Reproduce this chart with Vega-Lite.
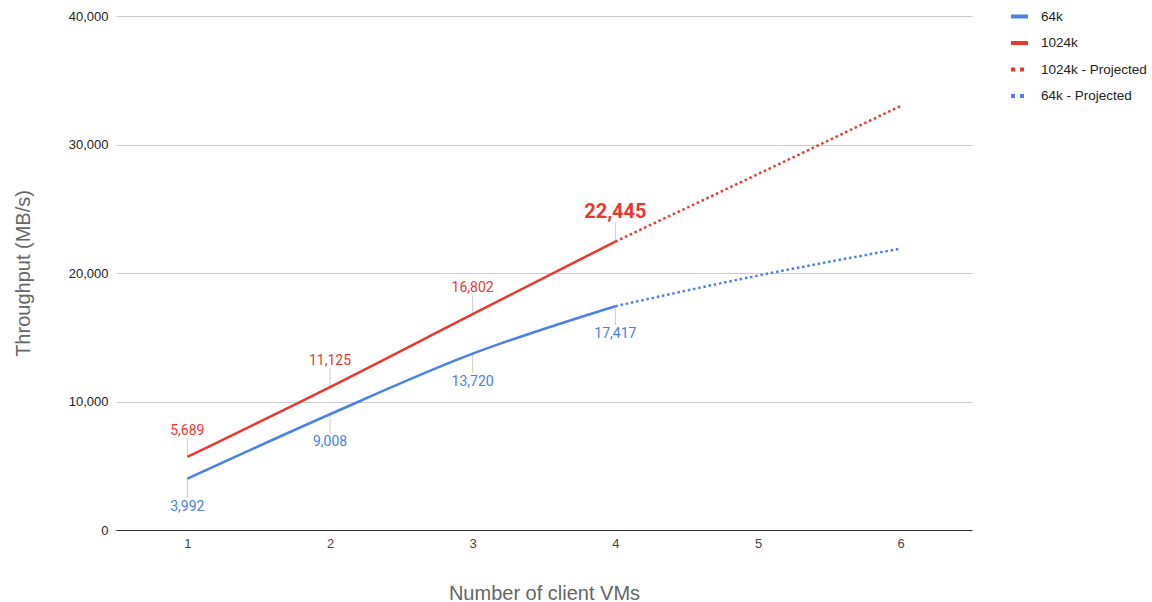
{
  "$schema": "https://vega.github.io/schema/vega-lite/v6.json",
  "autosize": "none",
  "width": 856,
  "height": 514,
  "padding": {"left": 116, "top": 16, "right": 180, "bottom": 72},
  "background": "white",
  "config": {
    "view": {"stroke": null},
    "font": "Liberation Sans"
  },
  "data": {
    "values": [
      {"vms": 1, "mbps": 3992, "series": "64k"},
      {"vms": 2, "mbps": 9008, "series": "64k"},
      {"vms": 3, "mbps": 13720, "series": "64k"},
      {"vms": 4, "mbps": 17417, "series": "64k"},
      {"vms": 1, "mbps": 5689, "series": "1024k"},
      {"vms": 2, "mbps": 11125, "series": "1024k"},
      {"vms": 3, "mbps": 16802, "series": "1024k"},
      {"vms": 4, "mbps": 22445, "series": "1024k"},
      {"vms": 4, "mbps": 22445, "series": "1024k - Projected"},
      {"vms": 5, "mbps": 27700, "series": "1024k - Projected"},
      {"vms": 6, "mbps": 33000, "series": "1024k - Projected"},
      {"vms": 4, "mbps": 17417, "series": "64k - Projected"},
      {"vms": 5, "mbps": 19800, "series": "64k - Projected"},
      {"vms": 6, "mbps": 21900, "series": "64k - Projected"}
    ]
  },
  "encoding": {
    "x": {
      "field": "vms",
      "type": "ordinal",
      "scale": {"type": "point", "padding": 0.5},
      "axis": {
        "title": "Number of client VMs",
        "titleFont": "Liberation Sans",
        "titleFontSize": 20,
        "titleFontWeight": "normal",
        "titleColor": "#666666",
        "titlePadding": 33,
        "labelAngle": 0,
        "labelFontSize": 13,
        "labelColor": "#444444",
        "labelPadding": 7,
        "ticks": false,
        "domainColor": "#333333",
        "domainWidth": 1,
        "grid": false
      }
    },
    "y": {
      "field": "mbps",
      "type": "quantitative",
      "scale": {"domain": [0, 40000], "nice": false},
      "axis": {
        "title": "Throughput (MB/s)",
        "titleFont": "Liberation Sans",
        "titleFontSize": 20,
        "titleFontWeight": "normal",
        "titleColor": "#666666",
        "titlePadding": 35,
        "values": [0, 10000, 20000, 30000, 40000],
        "format": ",d",
        "labelFontSize": 13,
        "labelColor": "#222222",
        "labelPadding": 8,
        "ticks": false,
        "domain": false,
        "grid": true,
        "gridColor": "#cccccc",
        "gridWidth": 1
      }
    },
    "color": {
      "field": "series",
      "type": "nominal",
      "scale": {
        "domain": ["64k", "1024k", "1024k - Projected", "64k - Projected"],
        "range": ["#4a80e8", "#e8392f", "#e8392f", "#4a80e8"]
      },
      "legend": {
        "title": null,
        "orient": "none",
        "legendX": 893,
        "legendY": -10,
        "symbolType": "stroke",
        "symbolSize": 289,
        "symbolStrokeWidth": 4,
        "labelFont": "Liberation Sans",
        "labelFontSize": 13.5,
        "labelColor": "#222222",
        "labelOffset": 11,
        "rowPadding": 7.5,
        "encode": {
          "symbols": {
            "update": {
              "strokeDash": {"signal": "indexof(datum.value, 'Projected') >= 0 ? [4, 5] : [1, 0]"},
              "strokeWidth": {"value": 4}
            }
          }
        }
      }
    }
  },
  "layer": [
    {
      "transform": [{"filter": "datum.series == '1024k'"}],
      "mark": {"type": "rule", "color": "#cccccc", "strokeWidth": 1, "y2Offset": -19},
      "encoding": {"y2": {"field": "mbps"}, "color": {"value": "#cccccc"}}
    },
    {
      "transform": [{"filter": "datum.series == '64k'"}],
      "mark": {"type": "rule", "color": "#cccccc", "strokeWidth": 1, "y2Offset": 19},
      "encoding": {"y2": {"field": "mbps"}, "color": {"value": "#cccccc"}}
    },
    {
      "transform": [{"filter": "indexof(datum.series, 'Projected') < 0"}],
      "mark": {"type": "line", "interpolate": "monotone", "strokeWidth": 2.5, "strokeCap": "butt"},
      "encoding": {"detail": {"field": "series"}}
    },
    {
      "transform": [{"filter": "indexof(datum.series, 'Projected') >= 0"}],
      "mark": {"type": "line", "interpolate": "monotone", "strokeWidth": 2.5, "strokeCap": "butt", "strokeDash": [2.5, 2.8]},
      "encoding": {"detail": {"field": "series"}}
    },
    {
      "transform": [{"filter": "datum.series == '1024k' && datum.vms < 4"}],
      "mark": {"type": "text", "font": "Roboto", "fontSize": 14, "dy": -26, "baseline": "middle"},
      "encoding": {"text": {"field": "mbps", "type": "quantitative", "format": ","}}
    },
    {
      "transform": [{"filter": "datum.series == '1024k' && datum.vms == 4"}],
      "mark": {"type": "text", "font": "Roboto", "fontSize": 20, "fontWeight": "bold", "dy": -30, "baseline": "middle"},
      "encoding": {"text": {"field": "mbps", "type": "quantitative", "format": ","}}
    },
    {
      "transform": [{"filter": "datum.series == '64k'"}],
      "mark": {"type": "text", "font": "Roboto", "fontSize": 14, "dy": 28, "baseline": "middle"},
      "encoding": {"text": {"field": "mbps", "type": "quantitative", "format": ","}}
    }
  ]
}
